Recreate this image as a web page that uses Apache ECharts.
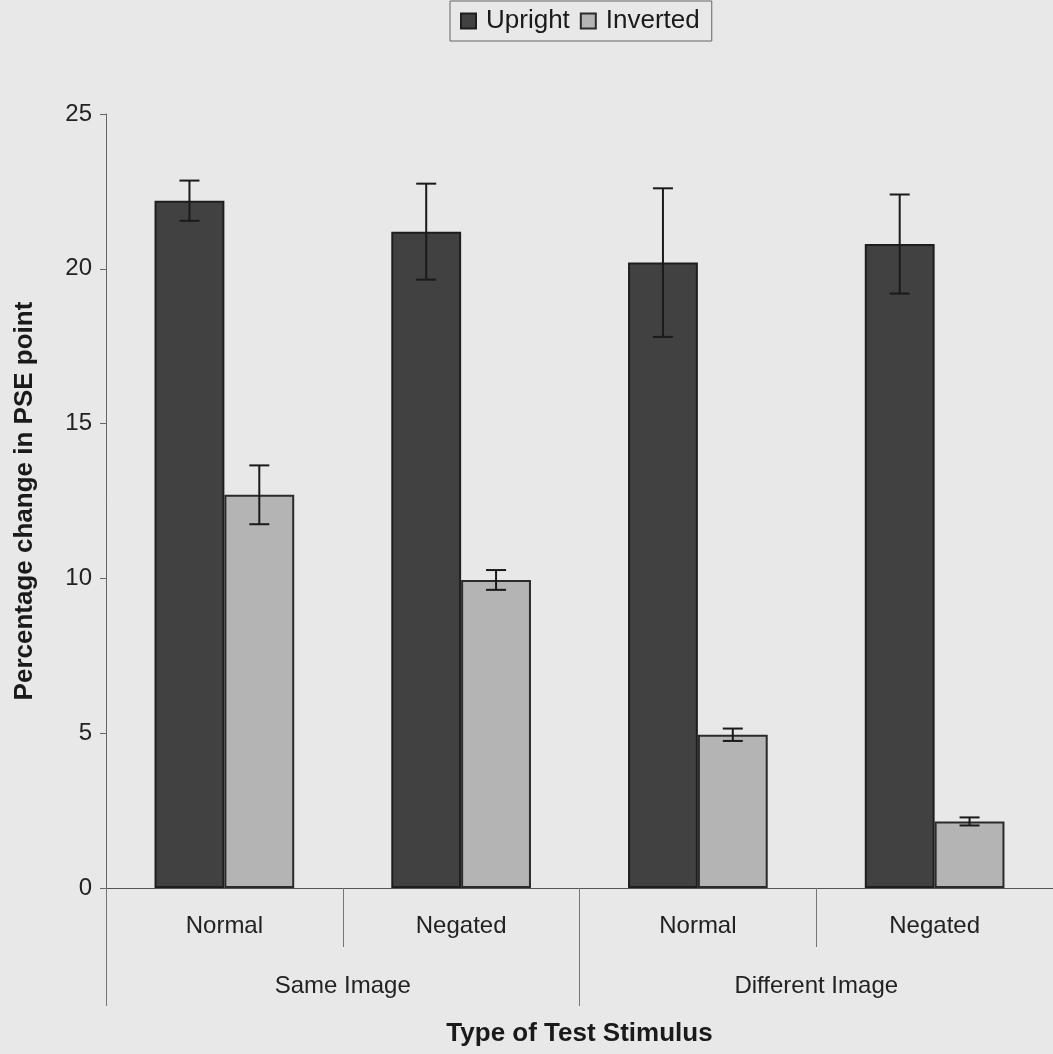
<!DOCTYPE html>
<html>
<head>
<meta charset="utf-8">
<script src="https://cdn.jsdelivr.net/npm/echarts@6/dist/echarts.min.js"></script>
<style>
html,body{margin:0;padding:0;background:#e8e8e8;}
#chart{width:1053px;height:1054px;}
</style>
</head>
<body>
<div id="chart"></div>
<script>
const categories = ['Normal', 'Negated', 'Normal', 'Negated'];
const groups = ['Same Image', 'Different Image'];
const seriesNames = ['Upright', 'Inverted'];
const upright = [22.2, 21.2, 20.2, 20.8];
const uprightErr = [0.65, 1.55, 2.4, 1.6];
const inverted = [12.7, 9.95, 4.95, 2.15];
const invertedErr = [0.95, 0.32, 0.2, 0.13];
const yMin = 0, yMax = 25, yStep = 5;

const FONT = 'Liberation Sans, Arial, sans-serif';
const GAP = 0.41;

function errData(vals, errs, side) {
  return vals.map((v, i) => [i, v, errs[i], side]);
}

function renderErr(params, api) {
  const i = api.value(0), v = api.value(1), e = api.value(2), side = api.value(3);
  const band = api.size([1, 0])[0];
  const off = band * (1 - GAP) / 4 * side;
  const top = api.coord([i, v + e]);
  const bot = api.coord([i, v - e]);
  const x = top[0] + off;
  const cap = 10;
  const st = { stroke: '#1a1a1a', lineWidth: 2 };
  return {
    type: 'group',
    children: [
      { type: 'line', shape: { x1: x, y1: top[1], x2: x, y2: bot[1] }, style: st },
      { type: 'line', shape: { x1: x - cap, y1: top[1], x2: x + cap, y2: top[1] }, style: st },
      { type: 'line', shape: { x1: x - cap, y1: bot[1], x2: x + cap, y2: bot[1] }, style: st }
    ]
  };
}

const chart = echarts.init(document.getElementById('chart'));
chart.setOption({
  backgroundColor: '#e8e8e8',
  animation: false,
  textStyle: { fontFamily: FONT },
  legend: {
    data: seriesNames,
    left: 450, top: 1,
    icon: 'rect',
    itemWidth: 15, itemHeight: 15, itemGap: 10,
    textStyle: { fontSize: 26, color: '#1a1a1a', fontFamily: FONT, padding: [0, 0, 0, 5] },
    borderColor: '#666', borderWidth: 1,
    padding: [7, 12, 7, 10]
  },
  grid: { left: 106, right: -13, top: 114, bottom: 166, containLabel: false },
  xAxis: [
    {
      type: 'category', data: categories, position: 'bottom',
      axisLine: { show: true, lineStyle: { color: '#555', width: 1 } },
      axisTick: { show: true, interval: 0, length: 59, lineStyle: { color: '#777' } },
      axisLabel: { margin: 26, fontSize: 24, color: '#222', fontFamily: FONT }
    },
    {
      type: 'category', data: groups, position: 'bottom',
      axisLine: { show: false },
      axisTick: { show: true, interval: 0, length: 118, lineStyle: { color: '#777' } },
      axisLabel: { margin: 86, fontSize: 24, color: '#222', fontFamily: FONT },
      name: 'Type of Test Stimulus', nameLocation: 'middle', nameGap: 133,
      nameTextStyle: { fontSize: 26, fontWeight: 'bold', color: '#1a1a1a', fontFamily: FONT }
    }
  ],
  yAxis: {
    type: 'value', min: yMin, max: yMax, interval: yStep,
    axisLine: { show: true, lineStyle: { color: '#666', width: 1 } },
    axisTick: { show: true, length: 6, lineStyle: { color: '#666' } },
    splitLine: { show: false },
    axisLabel: { fontSize: 24, color: '#222', margin: 14, fontFamily: FONT },
    name: 'Percentage change in PSE point', nameLocation: 'middle', nameGap: 68,
    nameTextStyle: { fontSize: 26, fontWeight: 'bold', color: '#1a1a1a', fontFamily: FONT }
  },
  series: [
    {
      name: 'Upright', type: 'bar', data: upright, xAxisIndex: 0,
      barGap: '0%', barCategoryGap: (GAP * 100) + '%',
      itemStyle: { color: '#414141', borderColor: '#1e1e1e', borderWidth: 2 }
    },
    {
      name: 'Inverted', type: 'bar', data: inverted, xAxisIndex: 0,
      itemStyle: { color: '#b4b4b4', borderColor: '#2a2a2a', borderWidth: 2 }
    },
    {
      type: 'custom', xAxisIndex: 0, renderItem: renderErr, z: 5,
      data: errData(upright, uprightErr, -1), silent: true
    },
    {
      type: 'custom', xAxisIndex: 0, renderItem: renderErr, z: 5,
      data: errData(inverted, invertedErr, 1), silent: true
    }
  ]
});
</script>
</body>
</html>
